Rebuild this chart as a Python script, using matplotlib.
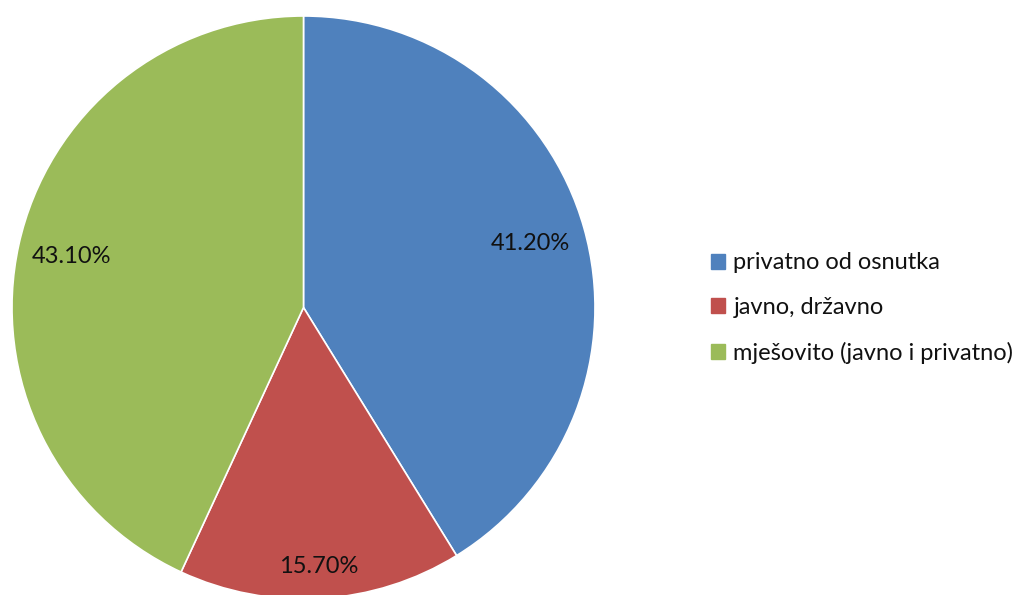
import numpy as np
import matplotlib
matplotlib.use('Agg')
import matplotlib.pyplot as plt
import matplotlib.patches as mpatches

plt.rcParams['font.family'] = ['Lato', 'DejaVu Sans']

labels = ['privatno od osnutka', 'javno, državno', 'mješovito (javno i privatno)']
values = [41.2, 15.7, 43.1]
colors = ['#4F81BD', '#C0504D', '#9BBB59']
label_dist = [0.81, 0.89, 0.815]

W, H = 1036, 595
fig = plt.figure(figsize=(W / 100, H / 100), dpi=100)

# pie centre (303.5, 307.5) px from top-left, radius 291.5 px
cx, cy, r = 303.5, 307.5, 291.5
ax = fig.add_axes([(cx - r) / W, (H - cy - r) / H, 2 * r / W, 2 * r / H])
wedges, _ = ax.pie(values, colors=colors, startangle=90, counterclock=False,
                   radius=1, wedgeprops=dict(linewidth=1.2, edgecolor='white'))
ax.set_xlim(-1, 1)
ax.set_ylim(-1, 1)
ax.set_aspect('equal')
ax.axis('off')

for w, v, d in zip(wedges, values, label_dist):
    ang = np.deg2rad((w.theta1 + w.theta2) / 2)
    ax.text(d * np.cos(ang), d * np.sin(ang), '%.2f%%' % v,
            ha='center', va='center', fontsize=17, color='#111111')

handles = [mpatches.Patch(color=c, label=l) for c, l in zip(colors, labels)]
fig.legend(handles=handles, loc='center left', bbox_to_anchor=(711 / W, 1 - 308 / H),
           frameon=False, fontsize=17, handlelength=0.6, handleheight=0.6,
           handletextpad=0.35, labelspacing=1.0, borderpad=0, borderaxespad=0,
           labelcolor='#111111')

fig.savefig('out.png', dpi=100)
